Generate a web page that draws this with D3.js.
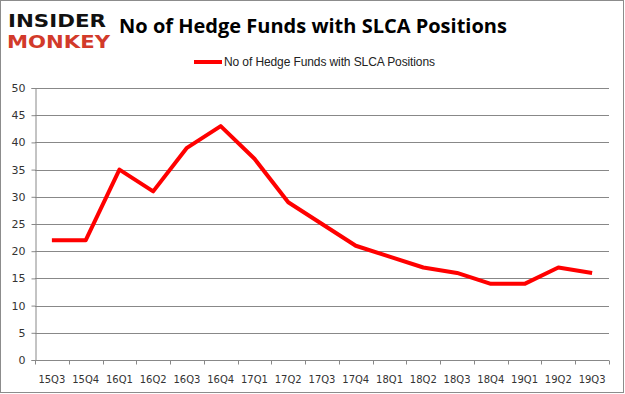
<!DOCTYPE html>
<meta charset="utf-8">
<script src="https://d3js.org/d3.v7.min.js"></script>
<style>
    body { margin: 0; }
    text { font-family: "DejaVu Sans", Verdana, sans-serif; }
</style>
<div id="viz"></div>
<script>
// quarters and number of funds holding SLCA
var quarters = ['15Q3','15Q4','16Q1','16Q2','16Q3','16Q4','17Q1','17Q2','17Q3',
                '17Q4','18Q1','18Q2','18Q3','18Q4','19Q1','19Q2','19Q3'];
var funds = [22, 22, 35, 31, 39, 43, 37, 29, 25, 21, 19, 17, 16, 14, 14, 17, 16];
var yTicks = [0, 5, 10, 15, 20, 25, 30, 35, 40, 45, 50];
var seriesName = 'No of Hedge Funds with SLCA Positions';

var W = 625, H = 394;
var margin = {top: 88, right: 16, bottom: 34, left: 35};
var width = W - margin.left - margin.right;
var height = H - margin.top - margin.bottom;

var root = d3.select('#viz').append('svg')
    .attr('width', W)
    .attr('height', H);

root.append('rect')
    .attr('x', 0.5).attr('y', 0.5)
    .attr('width', W - 2).attr('height', H - 2)
    .attr('fill', 'white')
    .attr('stroke', '#8c8c8c');

// logo
root.append('text')
    .attr('x', 8).attr('y', 27)
    .style('font-family', '"DejaVu Sans"')
    .style('font-weight', 'bold')
    .style('font-size', '18px')
    .attr('textLength', 98)
    .attr('lengthAdjust', 'spacingAndGlyphs')
    .attr('fill', '#111')
    .text('INSIDER');
root.append('text')
    .attr('x', 7).attr('y', 48)
    .style('font-family', '"DejaVu Sans"')
    .style('font-weight', 'bold')
    .style('font-size', '18px')
    .attr('textLength', 103)
    .attr('lengthAdjust', 'spacingAndGlyphs')
    .attr('fill', '#d23a2a')
    .text('MONKEY');

root.append('text')
    .attr('x', 313).attr('y', 33)
    .style('font-family', '"Open Sans", sans-serif')
    .style('font-weight', 'bold')
    .style('font-size', '20px')
    .style('text-anchor', 'middle')
    .attr('fill', '#000')
    .text('No of Hedge Funds with SLCA Positions');

// legend
root.append('line')
    .attr('x1', 194).attr('x2', 222)
    .attr('y1', 62).attr('y2', 62)
    .attr('stroke', '#ff0000')
    .attr('stroke-width', 4);
root.append('text')
    .attr('x', 224).attr('y', 66)
    .style('font-size', '12px')
    .style('font-family', '"Liberation Sans", sans-serif')
    .attr('textLength', 211)
    .attr('fill', '#222')
    .text(seriesName);

var svg = root.append('g')
    .attr('transform', 'translate(' + margin.left + ',' + margin.top + ')');

var x = d3.scaleBand()
    .domain(quarters)
    .range([0, width]);

var y = d3.scaleLinear()
    .domain([0, 50])
    .range([height, 0]);

// gridlines
svg.append('g')
    .selectAll('line')
    .data(yTicks.filter(function(d) { return d > 0; }))
    .enter()
    .append('line')
    .attr('x1', 0).attr('x2', width)
    .attr('y1', function(d) { return Math.round(y(d)) + 0.5; })
    .attr('y2', function(d) { return Math.round(y(d)) + 0.5; })
    .attr('stroke', '#888')
    .attr('stroke-width', 1);

var yAxis = svg.append('g')
    .attr('transform', 'translate(0.5,0)')
    .call(d3.axisLeft(y).tickValues(yTicks).tickSize(4).tickPadding(6));
yAxis.selectAll('line').attr('stroke', '#888');
yAxis.select('.domain').attr('stroke', '#888');
yAxis.selectAll('text').style('font-size', '11px').attr('fill', '#333');

// bottom axis with ticks between categories
var xAxis = svg.append('g')
    .attr('transform', 'translate(0,' + (Math.round(height) + 0.5) + ')');
xAxis.append('line')
    .attr('x1', 0).attr('x2', width)
    .attr('stroke', '#888');
xAxis.selectAll('.tk')
    .data(quarters.concat(['end']))
    .enter()
    .append('line')
    .attr('class', 'tk')
    .attr('x1', function(d, i) { return Math.round(i * x.step()) + 0.5; })
    .attr('x2', function(d, i) { return Math.round(i * x.step()) + 0.5; })
    .attr('y1', 0).attr('y2', 4)
    .attr('stroke', '#888');
xAxis.selectAll('.lbl')
    .data(quarters)
    .enter()
    .append('text')
    .attr('class', 'lbl')
    .attr('x', function(d) { return x(d) + x.bandwidth() / 2; })
    .attr('y', 22)
    .style('font-size', '10px')
    .style('text-anchor', 'middle')
    .attr('fill', '#333')
    .text(function(d) { return d; });

svg.append('path')
    .datum(funds)
    .attr('fill', 'none')
    .attr('stroke', '#ff0000')
    .attr('stroke-width', 4)
    .attr('stroke-linejoin', 'round')
    .attr('d', d3.line()
        .x(function(d, i) { return x(quarters[i]) + x.bandwidth() / 2; })
        .y(function(d) { return y(d); }));
</script>
